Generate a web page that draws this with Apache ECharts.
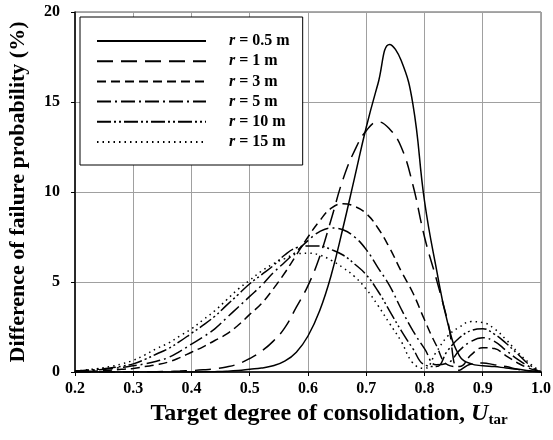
<!DOCTYPE html>
<html lang="en">
<head>
<meta charset="UTF-8">
<title>Difference of failure probability</title>
<script src="https://cdn.jsdelivr.net/npm/echarts@6/dist/echarts.min.js"></script>
<style>
  html, body { margin: 0; padding: 0; background: #fff; }
  #main { width: 553px; height: 440px; }
</style>
</head>
<body>
<div id="main"></div>
<script>
// target degree of consolidation, shared by all curves
var uTar = [0.20, 0.22, 0.24, 0.26, 0.28, 0.30, 0.32, 0.34, 0.36, 0.38,
            0.40, 0.42, 0.44, 0.46, 0.48, 0.50, 0.52, 0.54, 0.56, 0.58,
            0.60, 0.62, 0.64, 0.66, 0.68, 0.70, 0.72, 0.74, 0.76, 0.78,
            0.80, 0.82, 0.84, 0.86, 0.88, 0.90, 0.92, 0.94, 0.96, 0.98, 1.00];

// radius labels (m)
var radii = ['0.5', '1', '3', '5', '10', '15'];

// difference of failure probability (%)
var r05 = [0, 0, 0, 0, 0, 0, 0, 0, 0, 0,
           0, 0.01, 0.02, 0.04, 0.08, 0.15, 0.22, 0.35, 0.6, 1.1,
           2.0, 3.4, 5.4, 8.0, 10.8, 13.6, 16.0, 18.2, 17.3, 14.9,
           9.5, 5.8, 2.7, 0.9, 0.45, 0.35, 0.3, 0.22, 0.15, 0.07, 0];
var r1  = [0, 0, 0, 0, 0, 0.01, 0.01, 0.02, 0.03, 0.05,
           0.08, 0.12, 0.18, 0.28, 0.45, 0.75, 1.15, 1.7, 2.45, 3.6,
           4.8, 6.4, 8.5, 10.7, 12.3, 13.4, 13.9, 13.5, 12.5, 10.4,
           7.5, 5.2, 2.8, 0.1, 0.45, 0.5, 0.4, 0.3, 0.15, 0.06, 0];
var r3  = [0.02, 0.04, 0.06, 0.1, 0.15, 0.2, 0.3, 0.4, 0.55, 0.8,
           1.1, 1.4, 1.75, 2.1, 2.6, 3.2, 3.8, 4.6, 5.5, 6.5,
           7.5, 8.4, 9.1, 9.35, 9.2, 8.8, 8.0, 6.9, 5.6, 4.4,
           2.9, 1.5, 0.4, 0.3, 0.95, 1.35, 1.3, 0.9, 0.5, 0.2, 0];
var r5  = [0.05, 0.08, 0.12, 0.18, 0.25, 0.35, 0.45, 0.6, 0.8, 1.15,
           1.55, 1.95, 2.4, 3.0, 3.6, 4.2, 4.8, 5.5, 6.1, 6.7,
           7.3, 7.8, 8.0, 7.9, 7.5, 6.8, 5.8, 4.8, 3.5, 2.3,
           1.3, 0.4, 0.5, 1.2, 1.7, 1.9, 1.7, 1.2, 0.7, 0.3, 0];
var r10 = [0.05, 0.1, 0.15, 0.22, 0.32, 0.45, 0.7, 1.0, 1.3, 1.7,
           2.15, 2.6, 3.1, 3.7, 4.3, 4.9, 5.4, 5.9, 6.5, 6.9,
           7.0, 7.0, 6.8, 6.5, 6.0, 5.4, 4.5, 3.4, 2.3, 1.3,
           0.4, 0.3, 1.2, 1.9, 2.3, 2.4, 2.1, 1.6, 1.0, 0.4, 0];
var r15 = [0.05, 0.12, 0.2, 0.3, 0.45, 0.65, 0.95, 1.3, 1.6, 2.0,
           2.4, 2.9, 3.4, 4.0, 4.6, 5.1, 5.6, 6.0, 6.3, 6.55,
           6.6, 6.5, 6.2, 5.8, 5.3, 4.6, 3.7, 2.7, 1.7, 0.5,
           0.2, 1.1, 2.0, 2.5, 2.8, 2.75, 2.4, 1.8, 1.1, 0.5, 0];

var curves = [r05, r1, r3, r5, r10, r15];
var dashes = ['solid', [16, 8], [9, 5], [14, 4, 2, 4], [14, 3, 2, 3, 2, 3], [1.5, 4]];

var font = 'Liberation Serif';

function pairs(ys) {
    return uTar.map(function (u, i) { return [u, ys[i]]; });
}

var chart = echarts.init(document.getElementById('main'));

var series = curves.map(function (ys, k) {
    return {
        name: 'r = ' + radii[k] + ' m',
        type: 'line',
        data: pairs(ys),
        smooth: 0.45,
        symbol: 'none',
        lineStyle: { color: '#000', width: 1.5, type: dashes[k] },
        itemStyle: { color: '#000' },
        z: 3
    };
});

chart.setOption({
    animation: false,
    backgroundColor: '#fff',
    grid: { left: 75, right: 12, top: 12, bottom: 68, show: true,
            borderColor: '#555', borderWidth: 1, outerBoundsMode: 'none' },
    legend: {
        orient: 'vertical',
        left: 80, top: 17,
        itemWidth: 109, itemHeight: 14, itemGap: 4.2,
        padding: [16, 13, 15, 16],
        backgroundColor: '#fff',
        borderColor: '#000', borderWidth: 1,
        itemStyle: { opacity: 0 },
        formatter: function (name) { return '{i|r}' + name.slice(1); },
        textStyle: {
            fontFamily: font, fontWeight: 'bold', fontSize: 16, color: '#000',
            padding: [0, 0, 0, 18],
            rich: { i: { fontFamily: font, fontWeight: 'bold', fontStyle: 'italic', fontSize: 16, color: '#000' } }
        }
    },
    xAxis: {
        type: 'value', min: 0.2, max: 1.0, interval: 0.1,
        name: '{n|Target degree of consolidation, }{u|U}{s|tar}',
        nameLocation: 'middle', nameGap: 27,
        nameTextStyle: {
            padding: [0, 0, 0, 42],
            rich: {
                n: { fontFamily: font, fontWeight: 'bold', fontSize: 24, color: '#000' },
                u: { fontFamily: font, fontWeight: 'bold', fontStyle: 'italic', fontSize: 24, color: '#000' },
                s: { fontFamily: font, fontWeight: 'bold', fontSize: 15, color: '#000', padding: [13, 0, 0, 0] }
            }
        },
        axisLine: { lineStyle: { color: '#000', width: 1.5 } },
        axisTick: { show: true, length: 4, lineStyle: { color: '#000' } },
        axisLabel: { fontFamily: font, fontWeight: 'bold', fontSize: 16, color: '#000', margin: 9,
                     formatter: function (v) { return v.toFixed(1); } },
        splitLine: { lineStyle: { color: '#a0a0a0', width: 1 } }
    },
    yAxis: {
        type: 'value', min: 0, max: 20, interval: 5,
        name: 'Difference of failure probability (%)',
        nameLocation: 'middle', nameGap: 46,
        nameTextStyle: { fontFamily: font, fontWeight: 'bold', fontSize: 22, color: '#000' },
        axisLine: { show: true, lineStyle: { color: '#000', width: 1.5 } },
        axisTick: { show: true, length: 4, lineStyle: { color: '#000' } },
        axisLabel: { fontFamily: font, fontWeight: 'bold', fontSize: 16, color: '#000', margin: 15 },
        splitLine: { lineStyle: { color: '#a0a0a0', width: 1 } }
    },
    series: series
});
</script>
</body>
</html>
